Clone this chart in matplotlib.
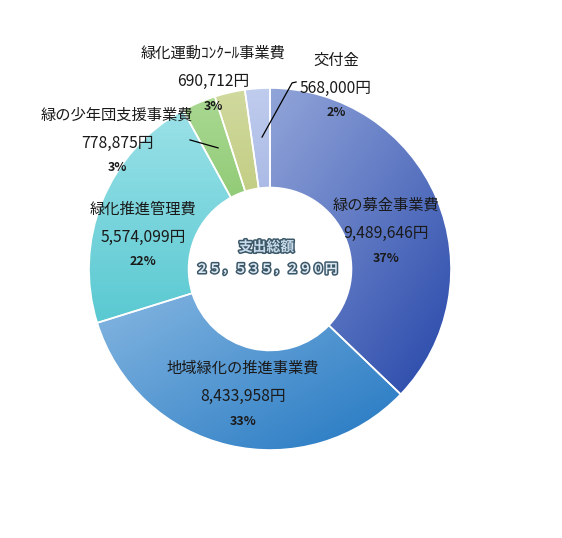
import numpy as np
import matplotlib
matplotlib.use("Agg")
import matplotlib.pyplot as plt
import matplotlib.patheffects as pe
from matplotlib.colors import to_rgb

plt.rcParams['font.family'] = ['Noto Sans CJK JP', 'DejaVu Sans']

# データ（時計回り、真上から）
labels = ['緑の募金事業費', '地域緑化の推進事業費', '緑化推進管理費',
          '緑の少年団支援事業費', '緑化運動ｺﾝｸｰﾙ事業費', '交付金']
values = [9489646, 8433958, 5574099, 778875, 690712, 568000]
center_title = '支出総額'
center_total = '２５，５３５，２９０円'

# 色（明るい側、暗い側）
light = ['#b3c2e8', '#b4d4f0', '#a8e6ec', '#b0dc98', '#d4dca4', '#c4d0f0']
dark = ['#2c4cac', '#2a7cc4', '#2cb8c2', '#52a834', '#9cae3c', '#7088cc']
grad_dir = [(-35, 0.9), (-60, 0.9), (-90, 0.9), (-90, 0.9), (-90, 0.9), (-90, 0.9)]

# ラベル位置（データ座標）
label_pos = [(0.64, 0.35), (-0.15, -0.55), (-0.70, 0.33),
             (-0.845, 0.85), (-0.315, 1.19), (0.365, 1.155)]

fig = plt.figure(figsize=(5.62, 5.38), dpi=100)
ax = fig.add_axes([0, 0, 1, 1])

wedges, _ = ax.pie(values, startangle=90, counterclock=False, radius=1.0,
                   wedgeprops=dict(width=0.55, edgecolor='white', linewidth=1.2))

# グラデーション塗り
xs = np.linspace(-1.5, 1.62, 400)
ys = np.linspace(-1.49, 1.49, 400)
X, Y = np.meshgrid(xs, ys)
for w, lc, dc, (ang, s) in zip(wedges, light, dark, grad_dir):
    a = np.deg2rad(ang)
    t = (X * np.cos(a) + Y * np.sin(a)) * 0.5 * s + 0.5
    t = np.clip(t, 0, 1)[..., None]
    img = np.array(to_rgb(lc)) * (1 - t) + np.array(to_rgb(dc)) * t
    w.set_facecolor('none')
    im = ax.imshow(img, extent=(xs[0], xs[-1], ys[0], ys[-1]), origin='lower',
                   zorder=1, interpolation='bilinear')
    im.set_clip_path(w)
    w.set_zorder(2)

total = sum(values)
for lab, v, (x, y) in zip(labels, values, label_pos):
    ax.text(x, y, lab, ha='center', va='center', fontsize=11, color='#1a1a1a', zorder=5)
    ax.text(x, y - 0.155, f'{v:,}円', ha='center', va='center', fontsize=11.3,
            color='#1a1a1a', zorder=5)
    ax.text(x, y - 0.29, f'{round(v / total * 100)}%', ha='center', va='center',
            fontsize=9, fontweight='bold', color='#1a1a1a', zorder=5)

# 引出線
ax.plot([-0.442, -0.287], [0.713, 0.669], color='black', lw=0.9, zorder=5)
ax.plot([0.144, 0.122, -0.044], [1.033, 1.028, 0.729], color='black', lw=0.9, zorder=5)

# 中央テキスト
fx = [pe.Stroke(linewidth=2.2, foreground='#3c5868'), pe.Normal()]
ax.text(-0.02, 0.12, center_title, ha='center', va='center', fontsize=10,
        fontweight='bold', color='#c8dcec', path_effects=fx, zorder=5)
ax.text(-0.02, 0.0, center_total, ha='center', va='center', fontsize=9.3,
        fontweight='bold', color='#dce8f2', path_effects=fx, zorder=5)

ax.set_xlim(-1.4917, 1.613)
ax.set_ylim(-1.486, 1.486)
ax.set_aspect('equal')
ax.axis('off')

fig.savefig('out.png', dpi=100)
